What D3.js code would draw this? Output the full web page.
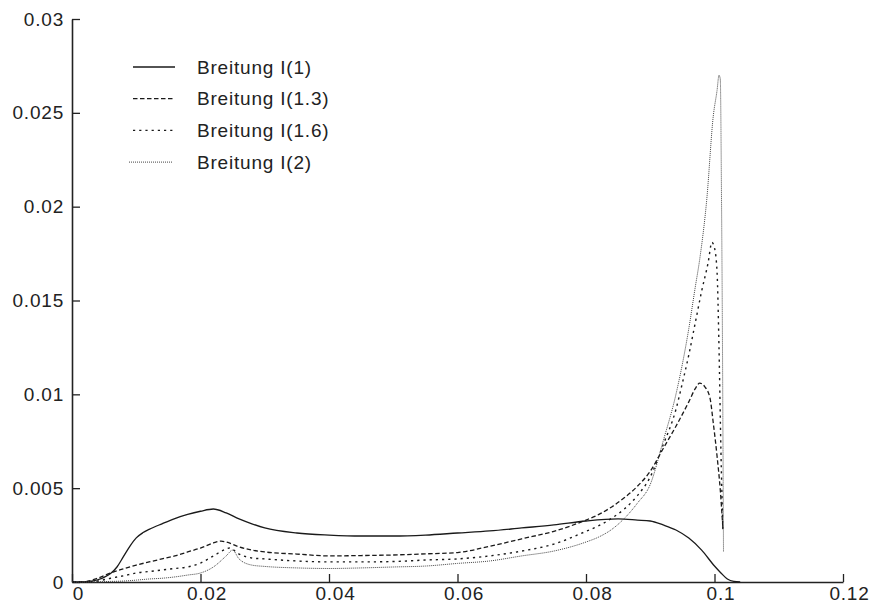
<!DOCTYPE html>
<html>
<head>
<meta charset="utf-8">
<script src="https://cdn.jsdelivr.net/npm/d3@7"></script>
<style>
    body { margin: 0; background: #fff; }
    svg text { font-family: "Liberation Sans", Arial, Helvetica, sans-serif; fill: #222; }
</style>
</head>
<body>
<svg id="chart" width="875" height="607"></svg>
<script>
// tick values and labels
const xTicks = [0, 0.02, 0.04, 0.06, 0.08, 0.1, 0.12];
const xTickLabels = ['0', '0.02', '0.04', '0.06', '0.08', '0.1', '0.12'];
const yTicks = [0, 0.005, 0.01, 0.015, 0.02, 0.025, 0.03];
const yTickLabels = ['0', '0.005', '0.01', '0.015', '0.02', '0.025', '0.03'];

const seriesNames = ['Breitung I(1)', 'Breitung I(1.3)', 'Breitung I(1.6)', 'Breitung I(2)'];

// Breitung I(1)
const x1 = [0, 0.002, 0.003, 0.004, 0.005, 0.006, 0.007, 0.008, 0.009, 0.01, 0.011, 0.012, 0.014, 0.016, 0.018, 0.02, 0.022, 0.024, 0.026, 0.028, 0.03, 0.035, 0.04, 0.045, 0.05, 0.055, 0.06, 0.065, 0.07, 0.075, 0.08, 0.085, 0.088, 0.09, 0.092, 0.094, 0.096, 0.098, 0.1, 0.101, 0.102, 0.103, 0.104];
const y1 = [0, 0.00001, 0.00004, 0.00012, 0.00025, 0.00045, 0.0008, 0.00135, 0.0019, 0.00235, 0.00262, 0.0028, 0.0031, 0.00338, 0.0036, 0.00377, 0.00389, 0.00368, 0.00336, 0.0031, 0.00288, 0.00261, 0.0025, 0.00245, 0.00245, 0.0025, 0.00261, 0.00272, 0.00288, 0.00304, 0.00325, 0.00336, 0.0033, 0.00325, 0.00304, 0.00277, 0.00234, 0.0017, 0.00085, 0.00048, 0.00016, 0.00003, 0];

// Breitung I(1.3)
const x13 = [0, 0.002, 0.004, 0.006, 0.008, 0.01, 0.012, 0.014, 0.016, 0.018, 0.02, 0.022, 0.0232, 0.024, 0.026, 0.028, 0.03, 0.035, 0.04, 0.045, 0.05, 0.055, 0.06, 0.065, 0.07, 0.075, 0.08, 0.082, 0.084, 0.086, 0.088, 0.09, 0.092, 0.094, 0.096, 0.097, 0.0977, 0.0985, 0.0993, 0.0998, 0.1004, 0.1009, 0.1013];
const y13 = [0, 0.00002, 0.0002, 0.00048, 0.0007, 0.0009, 0.00107, 0.00123, 0.00139, 0.0016, 0.00181, 0.00208, 0.00218, 0.00213, 0.00187, 0.0017, 0.0016, 0.00149, 0.00139, 0.00141, 0.00144, 0.0015, 0.00157, 0.0019, 0.0023, 0.0027, 0.0033, 0.0036, 0.004, 0.0045, 0.0051, 0.0059, 0.0071, 0.0083, 0.0096, 0.0103, 0.0106, 0.0104, 0.0098, 0.0085, 0.0067, 0.0049, 0.0029];

// Breitung I(1.6)
const x16 = [0, 0.002, 0.004, 0.006, 0.008, 0.01, 0.012, 0.014, 0.016, 0.018, 0.02, 0.022, 0.024, 0.0245, 0.026, 0.028, 0.03, 0.035, 0.04, 0.045, 0.05, 0.055, 0.06, 0.065, 0.07, 0.075, 0.08, 0.082, 0.084, 0.086, 0.088, 0.09, 0.092, 0.094, 0.095, 0.096, 0.097, 0.098, 0.099, 0.0996, 0.1, 0.1004, 0.1007, 0.101, 0.1013];
const y16 = [0, 0, 0.00005, 0.0002, 0.00033, 0.00048, 0.00056, 0.00064, 0.00072, 0.0008, 0.00101, 0.00139, 0.00176, 0.00181, 0.00149, 0.00128, 0.00123, 0.00112, 0.00107, 0.00107, 0.00109, 0.00117, 0.00123, 0.00139, 0.00165, 0.00202, 0.0027, 0.003, 0.0034, 0.0039, 0.0046, 0.0056, 0.0073, 0.0092, 0.0106, 0.0121, 0.0138, 0.0155, 0.017, 0.0181, 0.0178, 0.0165, 0.0125, 0.007, 0.0028];

// Breitung I(2)
const x2 = [0, 0.002, 0.004, 0.006, 0.008, 0.01, 0.012, 0.014, 0.016, 0.018, 0.02, 0.022, 0.024, 0.025, 0.026, 0.028, 0.03, 0.035, 0.04, 0.045, 0.05, 0.055, 0.06, 0.065, 0.07, 0.075, 0.08, 0.082, 0.084, 0.086, 0.088, 0.09, 0.092, 0.094, 0.096, 0.097, 0.0977, 0.0988, 0.0998, 0.1004, 0.1007, 0.1009, 0.1011, 0.1012, 0.1014];
const y2 = [0, 0, 0.00001, 0.00003, 0.00005, 0.0001, 0.00016, 0.0002, 0.00027, 0.00037, 0.00048, 0.0008, 0.00139, 0.0017, 0.00123, 0.0009, 0.00083, 0.00075, 0.00072, 0.00075, 0.0008, 0.00085, 0.00099, 0.00112, 0.00139, 0.00165, 0.00213, 0.0024, 0.0028, 0.0034, 0.0042, 0.0052, 0.0075, 0.01, 0.0135, 0.0157, 0.0172, 0.0204, 0.0248, 0.0262, 0.027, 0.0268, 0.02, 0.0151, 0.0016];

const seriesX = [x1, x13, x16, x2];
const seriesY = [y1, y13, y16, y2];
const dashes = [null, '4.5,2.5', '2.2,4', '1,1'];
const widths = [1.3, 1.3, 1.4, 1];
const colors = ['#1a1a1a', '#1a1a1a', '#1a1a1a', '#444'];

const svg = d3.select('#chart');
const plotLeft = 72, plotRight = 843, plotTop = 19, plotBottom = 582;

const x = d3.scaleLinear().domain([0, 0.12]).range([plotLeft, plotRight]);
const y = d3.scaleLinear().domain([0, 0.03]).range([plotBottom, plotTop]);

// axes
const xAxis = svg.append('g')
    .attr('transform', `translate(0,${plotBottom})`)
    .call(d3.axisBottom(x)
        .tickValues(xTicks)
        .tickFormat((d, i) => xTickLabels[i])
        .tickSizeInner(-8)
        .tickSizeOuter(0)
        .tickPadding(18));

const yAxis = svg.append('g')
    .attr('transform', `translate(${plotLeft},0)`)
    .call(d3.axisLeft(y)
        .tickValues(yTicks)
        .tickFormat((d, i) => yTickLabels[i])
        .tickSizeInner(-8)
        .tickSizeOuter(0)
        .tickPadding(8));

[xAxis, yAxis].forEach(g => {
    g.select('.domain').attr('stroke', '#222').attr('stroke-width', 1.6);
    g.selectAll('.tick line').attr('stroke', '#222').attr('stroke-width', 1.3);
    g.selectAll('.tick text')
        .attr('fill', '#222')
        .style('font-size', '19px')
        .style('letter-spacing', '0.8px')
        .style('font-family', '"Liberation Sans", Arial, sans-serif');
});
// labels sit a little right of their ticks in the original
xAxis.selectAll('.tick text').attr('dy', '0').attr('dx', 6);

// curves
const line = d3.line()
    .x(d => x(d[0]))
    .y(d => y(d[1]))
    .curve(d3.curveMonotoneX);

seriesNames.forEach((name, i) => {
    const pts = seriesX[i].map((v, j) => [v, seriesY[i][j]]);
    svg.append('path')
        .datum(pts)
        .attr('fill', 'none')
        .attr('stroke', colors[i])
        .attr('stroke-width', widths[i])
        .attr('stroke-dasharray', dashes[i])
        .attr('d', line);
});

// legend
const legend = svg.append('g');
seriesNames.forEach((name, i) => {
    const ly = 67 + i * 31.7;
    legend.append('line')
        .attr('x1', i === 3 ? 129 : 133).attr('x2', i === 3 ? 172 : 175)
        .attr('y1', ly).attr('y2', ly)
        .attr('stroke', colors[i])
        .attr('stroke-width', widths[i])
        .attr('stroke-dasharray', dashes[i]);
    legend.append('text')
        .attr('x', 197).attr('y', ly)
        .attr('dy', '0.35em')
        .style('font-size', '19px')
        .style('letter-spacing', '0.8px')
        .text(name);
});
</script>
</body>
</html>
